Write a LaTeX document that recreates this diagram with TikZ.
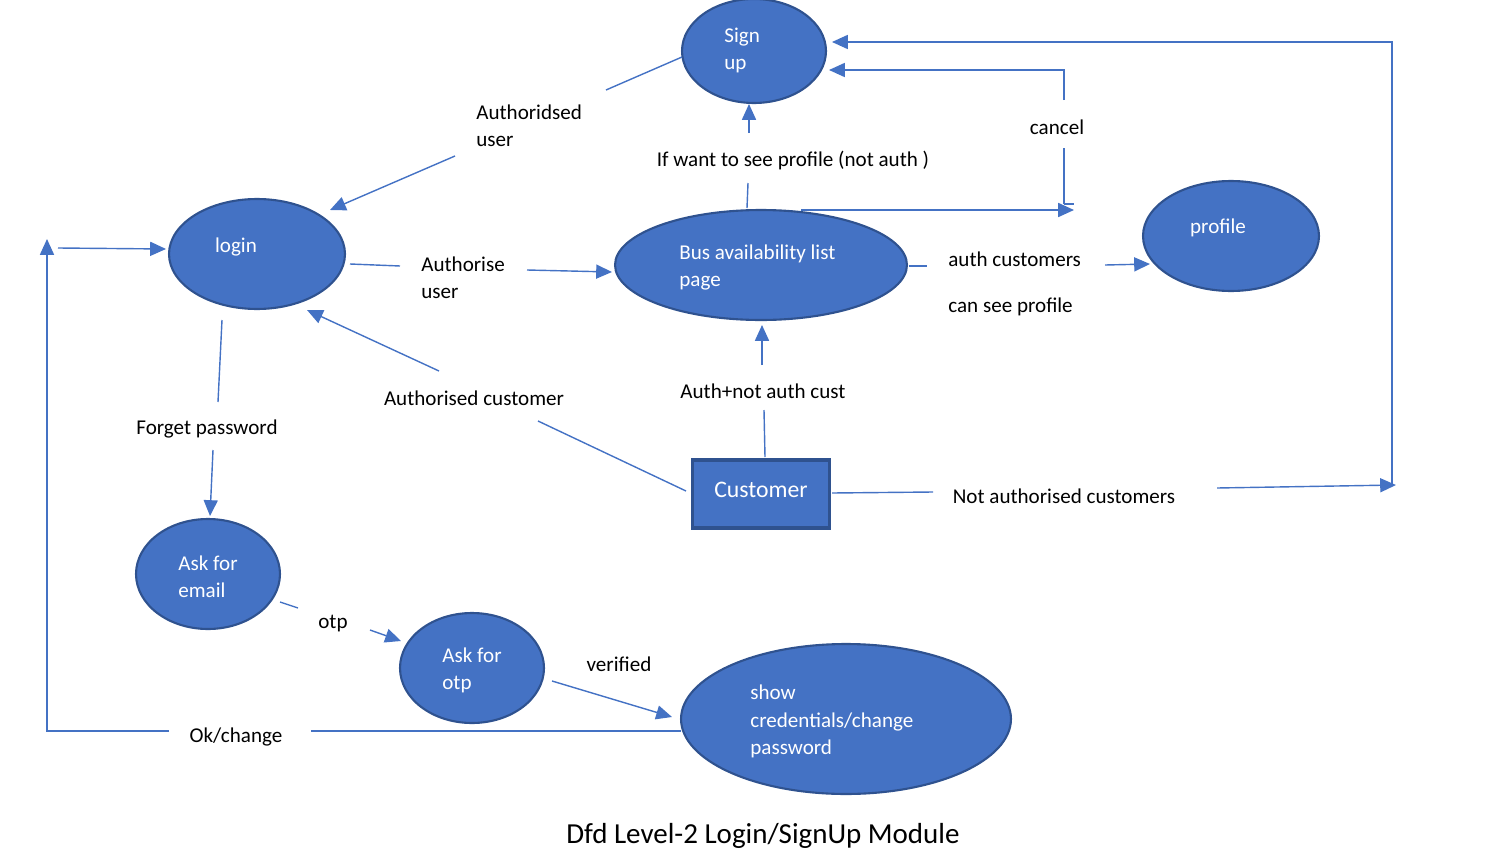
\documentclass[tikz,border=0pt]{standalone}
\usepackage{fontspec}
\setmainfont{Carlito}
\usetikzlibrary{shapes.geometric,arrows.meta}
\definecolor{obl}{HTML}{4472C4}
\definecolor{odk}{HTML}{2F528F}
\begin{document}
\begin{tikzpicture}[x=0.02cm,y=-0.02cm,
  proc/.style={ellipse, draw=odk, line width=1.2pt, fill=obl, inner sep=0pt},
  flow/.style={draw=obl, line width=0.8pt},
  arr/.style={flow, -{Triangle[length=9pt,width=8pt]}},
  lbl/.style={font=\fontsize{12}{15.6}\selectfont, text=black, inner sep=0pt, align=left, yshift=-0.05cm},
  wt/.style={lbl, text=white}]
\useasboundingbox (0,0) rectangle (1511,862);
% processes
\node[proc, minimum width=2.88cm, minimum height=2.08cm] (signup) at (754,51) {};
\node[proc, minimum width=3.52cm, minimum height=2.2cm] (login) at (257,254) {};
\node[proc, minimum width=5.84cm, minimum height=2.2cm] (bus) at (761,265) {};
\node[proc, minimum width=3.52cm, minimum height=2.2cm] (profile) at (1231,236) {};
\node[proc, minimum width=2.88cm, minimum height=2.2cm] (email) at (208,574) {};
\node[proc, minimum width=2.88cm, minimum height=2.2cm] (otp) at (472,668) {};
\node[proc, minimum width=6.6cm, minimum height=3.0cm] (show) at (846,719) {};
\node[rectangle, draw=odk, line width=1.8pt, fill=obl, minimum width=2.74cm, minimum height=1.36cm, inner sep=0pt] (cust) at (761,494) {};
% process texts
\node[wt, anchor=west] (signupT) at (724,48) {Sign\\up};
\node[wt] (loginT) at (236,244) {login};
\node[wt, anchor=west] (busT) at (679,265) {Bus availability list\\page};
\node[wt] (profileT) at (1218,225) {profile};
\node[wt, font=\fontsize{13.5}{16}\selectfont] (custT) at (761,487) {Customer};
\node[wt, anchor=west] (emailT) at (178,574) {Ask for\\email};
\node[wt, anchor=west] (otpT) at (442,668) {Ask for\\otp};
\node[wt, anchor=west] (showT) at (750,719) {show\\credentials/change\\password};
% labels
\node[lbl, anchor=west] (l1) at (476,123) {Authoridsed\\user};
\node[lbl, anchor=west] (l2) at (421,275) {Authorise\\user};
\node[lbl] (l3) at (474,396) {Authorised customer};
\node[lbl] (l4) at (763,389) {Auth+not auth cust};
\node[lbl] (l5) at (793,158) {If want to see profile (not auth )};
\node[lbl] (l6) at (1057,125) {cancel};
\node[lbl, anchor=west] (l7) at (948,257) {auth customers};
\node[lbl, anchor=west] (l8) at (948,304) {can see profile};
\node[lbl] (l9) at (1064,494) {Not authorised customers};
\node[lbl] (l10) at (207,426) {Forget password};
\node[lbl] (l11) at (333,621) {otp};
\node[lbl] (l12) at (619,662) {verified};
\node[lbl] (l13) at (236,734) {Ok/change};
\node[lbl, font=\fontsize{16.5}{18}\selectfont] (title) at (763,833) {Dfd Level-2 Login/SignUp Module};
% connector end points
\coordinate (a1) at (682,57); \coordinate (a2) at (606,90);
\coordinate (a3) at (455,156); \coordinate (a4) at (330,210);
\coordinate (b1) at (350,264); \coordinate (b2) at (400,266);
\coordinate (b3) at (527,270); \coordinate (b4) at (612,272);
\coordinate (c1) at (686,491); \coordinate (c2) at (538,421);
\coordinate (c3) at (439,371); \coordinate (c4) at (307,310);
\coordinate (d1) at (765,457); \coordinate (d2) at (764,410);
\coordinate (d3) at (762,365); \coordinate (d4) at (762,325);
\coordinate (e1) at (747,208); \coordinate (e2) at (748,183);
\coordinate (e3) at (749,133); \coordinate (e4) at (749,104);
\coordinate (f1) at (801,210); \coordinate (f2) at (1074,210);
\coordinate (g1) at (1064,204); \coordinate (g2) at (1064,148);
\coordinate (g3) at (1064,100); \coordinate (g4) at (1064,70); \coordinate (g5) at (829,70);
\coordinate (g6) at (1074,204);
\coordinate (h1) at (832,493); \coordinate (h2) at (933,492);
\coordinate (h3) at (1217,488); \coordinate (h4) at (1396,485);
\coordinate (h5) at (1392,485); \coordinate (h6) at (1392,42); \coordinate (h7) at (832,42);
\coordinate (i1) at (222,320); \coordinate (i2) at (218,402);
\coordinate (i3) at (213,450); \coordinate (i4) at (210,516);
\coordinate (j1) at (280,602); \coordinate (j2) at (298,608);
\coordinate (j3) at (370,630); \coordinate (j4) at (401,641);
\coordinate (k1) at (552,681); \coordinate (k2) at (672,717);
\coordinate (m1) at (681,731); \coordinate (m2) at (311,731);
\coordinate (m3) at (169,731); \coordinate (m4) at (47,731); \coordinate (m5) at (47,239);
\coordinate (m6) at (58,248); \coordinate (m7) at (166,249);
\coordinate (n1) at (909,266); \coordinate (n2) at (927,266);
\coordinate (n3) at (1105,265); \coordinate (n4) at (1150,264);
% connectors
\draw[flow] (a1) -- (a2); \draw[arr] (a3) -- (a4);
\draw[flow] (b1) -- (b2); \draw[arr] (b3) -- (b4);
\draw[flow] (c1) -- (c2); \draw[arr] (c3) -- (c4);
\draw[flow] (d1) -- (d2); \draw[arr] (d3) -- (d4);
\draw[flow] (e1) -- (e2); \draw[arr] (e3) -- (e4);
\draw[arr] (f1) -- (f2);
\draw[flow] (g1) -- (g2); \draw[flow] (g1) -- (g6);
\draw[arr] (g3) -- (g4) -- (g5);
\draw[flow] (h1) -- (h2); \draw[arr] (h3) -- (h4);
\draw[arr] (h5) -- (h6) -- (h7);
\draw[flow] (i1) -- (i2); \draw[arr] (i3) -- (i4);
\draw[flow] (j1) -- (j2); \draw[arr] (j3) -- (j4);
\draw[arr] (k1) -- (k2);
\draw[flow] (m1) -- (m2); \draw[arr] (m3) -- (m4) -- (m5);
\draw[arr] (m6) -- (m7);
\draw[flow] (n1) -- (n2); \draw[arr] (n3) -- (n4);
\end{tikzpicture}
\end{document}
